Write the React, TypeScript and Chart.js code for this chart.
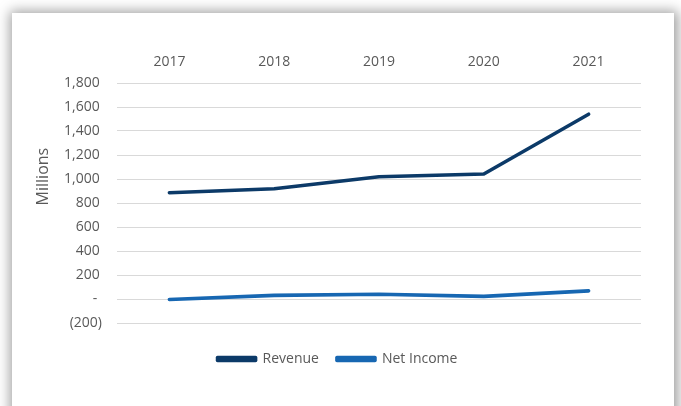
import React, { useEffect, useRef } from "react";
import { Chart, registerables } from "chart.js";

Chart.register(...registerables);

const years = ["2017", "2018", "2019", "2020", "2021"];
const revenue = [886, 919, 1019, 1042, 1540];
const netIncome = [-4, 30, 40, 22, 68];
const yMin = -200;
const yMax = 1800;
const yStep = 200;
const axisTitle = "Millions";

const TEXT = "#595959";
const FONT = "'Open Sans', 'Liberation Sans', sans-serif";

const fmtTick = (v: number) => {
  if (v === 0) return "-\u2009\u2009";
  if (v < 0) return `(${Math.abs(v).toLocaleString("en-US")})`;
  return `${v.toLocaleString("en-US")}\u2009`;
};

const titlePlugin = {
  id: "sideTitle",
  afterLayout(chart: any) {
    if (chart.legend) {
      chart.legend.left -= 14;
      chart.legend.right -= 14;
    }
  },
  afterDraw(chart: any) {
    const { ctx, chartArea } = chart;
    ctx.save();
    ctx.font = `16px ${FONT}`;
    ctx.fillStyle = TEXT;
    ctx.textAlign = "center";
    ctx.textBaseline = "middle";
    const y = chartArea.top + (chartArea.bottom - chartArea.top) * 0.39;
    ctx.translate(chartArea.left - 74, y);
    ctx.rotate(-Math.PI / 2);
    ctx.fillText(axisTitle, 0, 0);
    ctx.restore();
  },
};

export default function App() {
  const ref = useRef<HTMLCanvasElement>(null);
  useEffect(() => {
    if (!ref.current) return;
    const chart = new Chart(ref.current, {
      type: "line",
      data: {
        labels: years,
        datasets: [
          {
            label: "Revenue",
            data: revenue,
            borderColor: "#0c3a68",
            backgroundColor: "#0c3a68",
            borderWidth: 3.6,
            borderJoinStyle: "round",
            borderCapStyle: "round",
            pointRadius: 0,
            tension: 0,
          },
          {
            label: "Net Income",
            data: netIncome,
            borderColor: "#1767b2",
            backgroundColor: "#1767b2",
            borderWidth: 3.6,
            borderJoinStyle: "round",
            borderCapStyle: "round",
            pointRadius: 0,
            tension: 0,
          },
        ],
      },
      options: {
        animation: false,
        responsive: false,
        maintainAspectRatio: false,
        layout: { padding: { top: 40, left: 50, right: 33, bottom: 30 } },
        plugins: {
          tooltip: { enabled: false },
          legend: {
            position: "bottom",
            title: { display: true, text: "", padding: 0, font: { size: 11, lineHeight: 1 } },
            labels: {
              boxWidth: 38,
              boxHeight: 3,
              padding: 18,
              color: TEXT,
              font: { family: FONT, size: 14 },
            },
          },
        },
        scales: {
          x: {
            position: "top",
            offset: true,
            grid: { display: false, drawTicks: false },
            border: { display: false },
            ticks: { color: TEXT, font: { family: FONT, size: 14 }, padding: 13 },
            afterFit(scale: any) {
              scale.height = 30;
            },
          },
          y: {
            min: yMin,
            max: yMax,
            grid: { color: "#d9d9d9", lineWidth: 1, drawTicks: false },
            border: { display: false },
            ticks: {
              stepSize: yStep,
              color: TEXT,
              font: { family: FONT, size: 14 },
              padding: 15,
              callback: (v: any) => fmtTick(Number(v)),
            },
            afterFit(scale: any) {
              scale.width = 55;
            },
          },
        },
      },
      plugins: [titlePlugin],
    });
    return () => chart.destroy();
  }, []);

  return (
    <div
      style={{
        position: "fixed",
        left: 0,
        top: 0,
        width: 681,
        height: 406,
        overflow: "hidden",
        background: "#ffffff",
      }}
    >
      <div
        style={{
          position: "absolute",
          left: 12,
          top: 13,
          width: 662,
          height: 420,
          background: "#ffffff",
          boxShadow: "1px 1px 12px 3px rgba(0,0,0,0.38)",
        }}
      >
        <canvas ref={ref} width={662} height={393} style={{ display: "block" }} />
      </div>
    </div>
  );
}
